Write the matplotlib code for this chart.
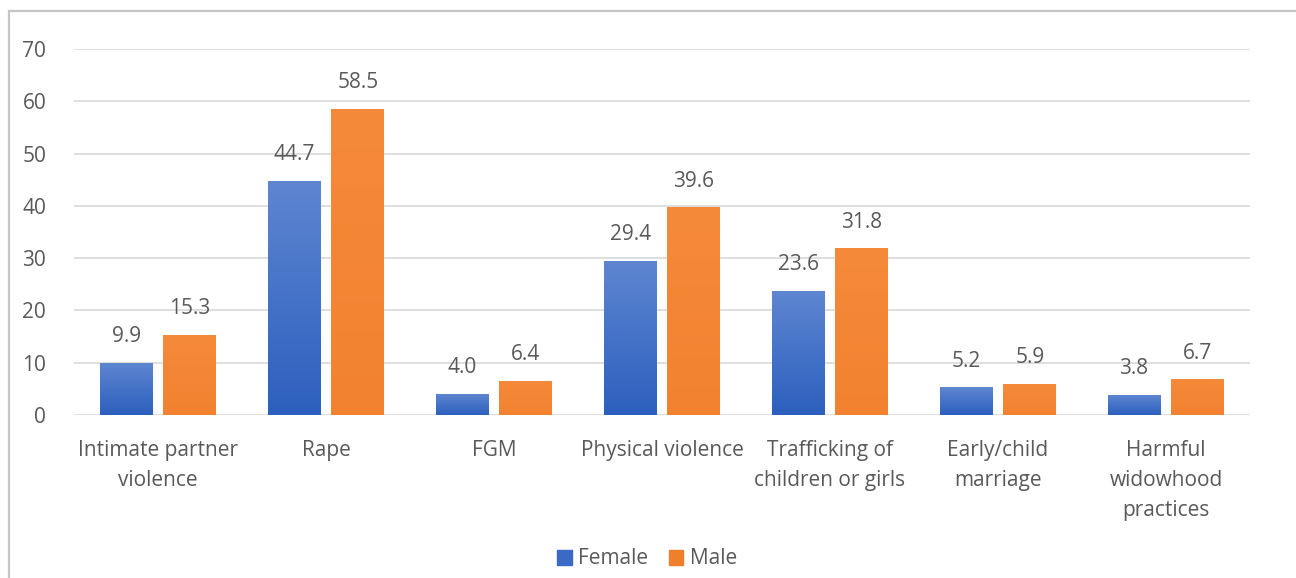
import numpy as np
import matplotlib
matplotlib.use("Agg")
import matplotlib.pyplot as plt
from matplotlib.patches import Rectangle
from matplotlib.colors import LinearSegmentedColormap

categories = ["Intimate partner\nviolence", "Rape", "FGM", "Physical violence",
              "Trafficking of\nchildren or girls", "Early/child\nmarriage",
              "Harmful\nwidowhood\npractices"]
female = [9.9, 44.7, 4.0, 29.4, 23.6, 5.2, 3.8]
male = [15.3, 58.5, 6.4, 39.6, 31.8, 5.9, 6.7]
series_names = ["Female", "Male"]
yticks = list(range(0, 80, 10))

plt.rcParams['font.family'] = ['Open Sans', 'DejaVu Sans']
TXT = "#595959"
FS = 15

fig = plt.figure(figsize=(12.96, 5.78), dpi=100)
fig.patches.append(Rectangle((9 / 1296, -0.1), 1.1, 1 - 11 / 578 + 0.1,
                             transform=fig.transFigure, fill=False,
                             edgecolor="#c6c6c6", linewidth=1.6))

ax = fig.add_axes([74 / 1296, 1 - 415 / 578, 1176 / 1296, 366 / 578])

cmap_f = LinearSegmentedColormap.from_list("f", ["#2c5fbe", "#5e86d1"])
cmap_m = LinearSegmentedColormap.from_list("m", ["#f2822f", "#f58a3a"])
grad = np.linspace(0, 1, 256).reshape(-1, 1)

bw = 0.315
off = 0.19
x = np.arange(len(categories))
for vals, dx, cmap in [(female, -off, cmap_f), (male, off, cmap_m)]:
    bars = ax.bar(x + dx, vals, width=bw, color="none", zorder=2)
    for b, v in zip(bars, vals):
        x0 = b.get_x()
        ax.imshow(grad, cmap=cmap, origin="lower", aspect="auto",
                  extent=(x0, x0 + bw, 0, v), zorder=2, interpolation="bilinear")
        ax.text(b.get_x() + bw / 2, v + 3.1, f"{v:.1f}", ha="center", va="bottom",
                fontsize=FS, color=TXT)
ax.set_xlim(-0.5, len(categories) - 0.5)
ax.set_ylim(0, 70)

ax.set_yticks(yticks)
ax.yaxis.grid(True, color="#d9d9d9", linewidth=1.2)
ax.set_axisbelow(True)
for s in ax.spines.values():
    s.set_visible(False)
ax.tick_params(axis="y", length=0, pad=20, labelsize=FS, labelcolor=TXT)
ax.set_xticks(x)
ax.set_xticklabels(categories, fontsize=FS, color=TXT, linespacing=1.55)
ax.tick_params(axis="x", length=0, pad=18)

handles = [Rectangle((0, 0), 1, 1, color=c) for c in ["#3b6ac6", "#f07f2c"]]
fig.legend(handles, series_names, loc="center", bbox_to_anchor=(647 / 1296, 1 - 559 / 578),
           ncol=2, frameon=False, fontsize=FS, labelcolor=TXT, handlelength=0.7,
           handleheight=0.7, handletextpad=0.3, columnspacing=1.0)

fig.savefig("out.png", dpi=100)
